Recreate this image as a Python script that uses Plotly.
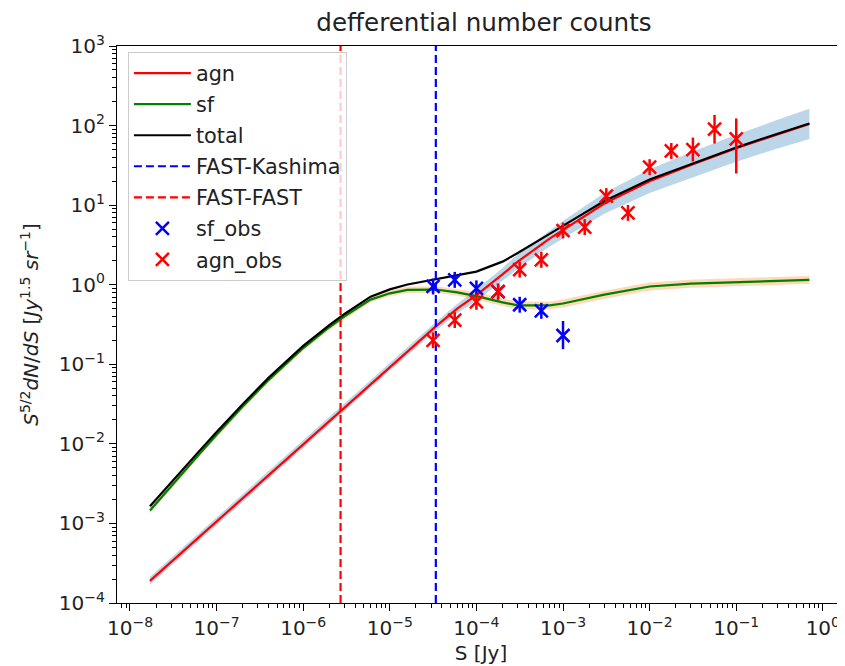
import plotly.graph_objects as go

# ---- model curves ----
S = [1.7e-8, 3e-8, 6e-8, 1e-7, 2e-7, 4e-7, 1e-6, 2e-6, 3e-6, 6e-6, 1e-5, 1.6e-5,
     3.4e-5, 6e-5, 1e-4, 2e-4, 3e-4, 7e-4, 1e-3, 3e-3, 1e-2, 3e-2, 1e-1, 3e-1, 7e-1]
agn = [1.9e-4, 3.3e-4, 6.5e-4, 1.06e-3, 2.08e-3, 4.07e-3, 9.9e-3, 0.0194, 0.029, 0.057,
       0.093, 0.145, 0.30, 0.50, 0.74, 1.35, 1.95, 3.8, 4.9, 10.5, 20, 32, 52, 78, 105]
agn_hi = [2.13e-4, 3.70e-4, 7.29e-4, 1.19e-3, 2.33e-3, 4.57e-3, 1.11e-2, 0.0218, 0.0325,
          0.064, 0.104, 0.163, 0.34, 0.574, 0.87, 1.62, 2.40, 4.78, 6.31, 14.2, 28.3,
          46.2, 76.9, 118, 163]
agn_lo = [1.69e-4, 2.94e-4, 5.79e-4, 9.45e-4, 1.85e-3, 3.63e-3, 8.82e-3, 0.0173, 0.0258,
          0.0508, 0.0829, 0.129, 0.264, 0.436, 0.63, 1.12, 1.585, 3.02, 3.80, 7.78, 14.2,
          22.1, 35.2, 51.5, 67.8]
sf = [1.45e-3, 2.99e-3, 7.0e-3, 0.0130, 0.0294, 0.0638, 0.160, 0.292, 0.40, 0.65, 0.78,
      0.86, 0.87, 0.80, 0.72, 0.60, 0.55, 0.55, 0.58, 0.75, 0.95, 1.03, 1.08, 1.12, 1.15]
sf_hi = [1.57e-3, 3.24e-3, 7.59e-3, 0.0141, 0.0319, 0.0692, 0.173, 0.317, 0.434, 0.705,
         0.846, 0.943, 0.954, 0.877, 0.808, 0.673, 0.617, 0.617, 0.651, 0.842, 1.066,
         1.156, 1.212, 1.257, 1.29]
sf_lo = [1.34e-3, 2.76e-3, 6.46e-3, 0.0120, 0.0271, 0.0589, 0.148, 0.269, 0.369, 0.60,
         0.72, 0.785, 0.794, 0.730, 0.642, 0.535, 0.49, 0.49, 0.517, 0.668, 0.847, 0.918,
         0.963, 0.998, 1.025]
total = [1.64e-3, 3.32e-3, 7.65e-3, 0.0141, 0.0315, 0.0679, 0.170, 0.311, 0.429, 0.707,
         0.873, 1.005, 1.17, 1.30, 1.46, 1.95, 2.5, 4.35, 5.48, 11.25, 20.95, 33.0, 53.1,
         79.1, 106.2]

# ---- survey limits ----
FAST_Kashima = 3.4e-5
FAST_FAST = 2.7e-6

# ---- observations ----
S_obs = [3.16e-5, 5.62e-5, 1e-4, 1.78e-4, 3.16e-4, 5.62e-4, 1e-3, 1.78e-3, 3.16e-3,
         5.62e-3, 1e-2, 1.78e-2, 3.16e-2, 5.62e-2, 0.1]
sf_obs = [0.95, 1.15, 0.90, 0.82, 0.56, 0.47, 0.23]
sf_err_up = [0.246, 0.298, 0.233, 0.212, 0.145, 0.122, 0.12]
sf_err_dn = [0.196, 0.237, 0.185, 0.169, 0.115, 0.097, 0.075]
agn_obs = [0.20, 0.36, 0.61, 0.82, 1.55, 2.05, 4.8, 5.3, 13, 8.0, 30, 48, 50, 90, 68]
agn_err_up = [0.052, 0.093, 0.158, 0.212, 0.40, 0.53, 1.24, 1.37, 3.37, 2.07, 7.8, 12.4,
              20.7, 46, 55]
agn_err_dn = [0.041, 0.074, 0.126, 0.169, 0.32, 0.42, 0.99, 1.09, 2.68, 1.65, 6.2, 9.9,
              14.6, 30.6, 43]

# ---- axes ----
x_tick_vals = [1e-8, 1e-7, 1e-6, 1e-5, 1e-4, 1e-3, 1e-2, 1e-1, 1e0]
x_tick_text = ["10<sup>−8</sup>", "10<sup>−7</sup>", "10<sup>−6</sup>", "10<sup>−5</sup>",
               "10<sup>−4</sup>", "10<sup>−3</sup>", "10<sup>−2</sup>", "10<sup>−1</sup>",
               "10<sup>0</sup>"]
y_tick_vals = [1e-4, 1e-3, 1e-2, 1e-1, 1e0, 1e1, 1e2, 1e3]
y_tick_text = ["10<sup>−4</sup>", "10<sup>−3</sup>", "10<sup>−2</sup>", "10<sup>−1</sup>",
               "10<sup>0</sup>", "10<sup>1</sup>", "10<sup>2</sup>", "10<sup>3</sup>"]
x_range_log = [-8.15, 0.256]
y_range_log = [-4, 3]

FONT = "DejaVu Sans"
TXT = "#222"
fig = go.Figure()

# uncertainty bands
fig.add_trace(go.Scatter(x=S, y=agn_hi, mode="lines", line=dict(width=0),
                         showlegend=False, hoverinfo="skip"))
fig.add_trace(go.Scatter(x=S, y=agn_lo, mode="lines", line=dict(width=0), fill="tonexty",
                         fillcolor="rgba(31,119,180,0.3)", showlegend=False, hoverinfo="skip"))
fig.add_trace(go.Scatter(x=S, y=sf_hi, mode="lines", line=dict(width=0),
                         showlegend=False, hoverinfo="skip"))
fig.add_trace(go.Scatter(x=S, y=sf_lo, mode="lines", line=dict(width=0), fill="tonexty",
                         fillcolor="rgba(255,127,14,0.3)", showlegend=False, hoverinfo="skip"))

fig.add_trace(go.Scatter(x=S, y=agn, mode="lines", name="agn", legendgroup="g1",
                         line=dict(color="#ff0000", width=2.2)))
fig.add_trace(go.Scatter(x=S, y=sf, mode="lines", name="sf", legendgroup="g2",
                         line=dict(color="#008000", width=2.2)))
fig.add_trace(go.Scatter(x=S, y=total, mode="lines", name="total", legendgroup="g3",
                         line=dict(color="#000000", width=2.2)))

y_span = [10 ** y_range_log[0], 10 ** y_range_log[1]]
fig.add_trace(go.Scatter(x=[FAST_Kashima, FAST_Kashima], y=y_span, mode="lines",
                         name="FAST-Kashima", legendgroup="g4",
                         line=dict(color="#0000ff", width=2.2, dash="8px,4px")))
fig.add_trace(go.Scatter(x=[FAST_FAST, FAST_FAST], y=y_span, mode="lines",
                         name="FAST-FAST", legendgroup="g5",
                         line=dict(color="#ff0000", width=2.2, dash="8px,4px")))

fig.add_trace(go.Scatter(
    x=S_obs[:len(sf_obs)], y=sf_obs, mode="markers", name="sf_obs", legendgroup="g6",
    marker=dict(symbol="x-thin", size=13, color="#0000ff",
                line=dict(color="#0000ff", width=2.5)),
    error_y=dict(type="data", symmetric=False, array=sf_err_up, arrayminus=sf_err_dn,
                 color="#0000ff", thickness=2.5, width=0)))
fig.add_trace(go.Scatter(
    x=S_obs, y=agn_obs, mode="markers", name="agn_obs", legendgroup="g7",
    marker=dict(symbol="x-thin", size=13, color="#ff0000",
                line=dict(color="#ff0000", width=2.5)),
    error_y=dict(type="data", symmetric=False, array=agn_err_up, arrayminus=agn_err_dn,
                 color="#ff0000", thickness=2.5, width=0)))

axis_common = dict(
    type="log", showgrid=False, zeroline=False, showline=True, linecolor="black",
    linewidth=1.2, ticks="outside", ticklen=7, tickwidth=1.2, tickcolor="black",
    tickmode="array", tickfont=dict(family=FONT, size=20, color=TXT),
    minor=dict(ticks="outside", ticklen=4, tickwidth=1, tickcolor="black",
               dtick="D1", showgrid=False),
)

# the page body adds an 8px offset; the figure is sized to fill the rest of the window
W, H = 837, 658
fig.update_layout(
    width=W, height=H,
    margin=dict(l=109, r=0, t=38, b=63),
    paper_bgcolor="white", plot_bgcolor="white",
    font=dict(family=FONT, size=20, color=TXT),
    title=dict(text="defferential number counts", x=476 / W, xref="container",
               xanchor="center", y=1 - 14 / H, yref="container", yanchor="middle",
               font=dict(family=FONT, size=24.6, color=TXT)),
    xaxis=dict(axis_common, range=x_range_log, tickvals=x_tick_vals, ticktext=x_tick_text,
               mirror=True,
               title=dict(text="S [Jy]", font=dict(family=FONT, size=20), standoff=6)),
    yaxis=dict(axis_common, range=y_range_log, tickvals=y_tick_vals, ticktext=y_tick_text,
               title=dict(text="<i>S</i><sup>5/2</sup><i>dN</i>/<i>dS</i> [<i>Jy</i><sup>1.5</sup> <i>sr</i><sup>−1</sup>]",
                          font=dict(family=FONT, size=20), standoff=14)),
    legend=dict(x=0.015, y=0.989, xanchor="left", yanchor="top", traceorder="grouped",
                tracegroupgap=1,
                bgcolor="rgba(255,255,255,0.8)", bordercolor="#cccccc", borderwidth=1,
                font=dict(family=FONT, size=20.8, color=TXT), itemwidth=57),
    showlegend=True,
)

fig.write_html("out.html")
